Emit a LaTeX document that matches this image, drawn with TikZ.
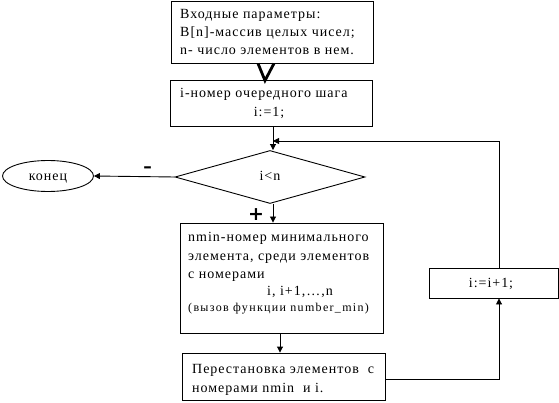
\documentclass[tikz,border=0pt]{standalone}
\usepackage{fontspec}
\setmainfont{Liberation Serif}[LetterSpace=7]
\newfontfamily\smallfam{Liberation Serif}[LetterSpace=11]
\newfontfamily\signfont{DejaVu Sans}
\usetikzlibrary{shapes.geometric,arrows.meta}
\tikzset{
  box/.style={draw, line width=0.9pt, inner sep=0pt},
  txt/.style={anchor=base west, inner sep=0pt, font=\fontsize{14}{16}\selectfont},
  ctxt/.style={anchor=base, inner sep=0pt, font=\fontsize{14}{16}\selectfont},
  conn/.style={line width=0.9pt, -{Triangle[length=6pt,width=6pt]}},
}
\begin{document}
\begin{tikzpicture}[x=1pt,y=-1pt]
\useasboundingbox (0,0) rectangle (559,403);
% boxes
\node[box, minimum width=202pt, minimum height=62pt] (b1) at (272,32) {};
\node[box, minimum width=202pt, minimum height=46pt] (b2) at (271,103) {};
\node[box, shape=diamond, minimum width=190pt, minimum height=53pt, aspect=3.6] (d) at (270,177) {};
\node[box, shape=ellipse, minimum width=91pt, minimum height=31pt] (e) at (48,176) {};
\node[box, minimum width=203pt, minimum height=110pt] (b3) at (281.5,278) {};
\node[box, minimum width=203pt, minimum height=47pt] (b4) at (283.5,376.5) {};
\node[box, minimum width=129pt, minimum height=30pt] (b5) at (493.5,283) {};
% texts
\node[txt] (t11) at (180,19) {Входные параметры:};
\node[txt] (t12) at (180,37) {B[n]-массив целых чисел;};
\node[txt] (t13) at (180,55) {n- число элементов в нем.};
\node[txt] (t21) at (180,98) {i-номер очередного шага};
\node[ctxt] (t22) at (269,117) {i:=1;};
\node[ctxt] (td) at (270,181) {i<n};
\node[ctxt] (te) at (48,181) {конец};
\node[txt] (t31) at (188,242) {nmin-номер минимального};
\node[txt] (t32) at (188,260) {элемента, среди элементов};
\node[txt] (t33) at (188,278) {с номерами};
\node[ctxt] (t34) at (300,295) {i, i+1,\dots,n};
\node[anchor=base west, inner sep=0pt, font=\smallfam\fontsize{12}{14}\selectfont] (t35) at (188,311) {(вызов функции number\_min)};
\node[txt] (t41) at (192,373) {Перестановка элементов\ \ с};
\node[txt] (t42) at (192,392) {номерами nmin\ \ и i.};
\node[ctxt] (t5) at (491,287) {i:=i+1;};
% labels
\node[inner sep=0pt, font=\signfont\fontsize{17}{17}\selectfont\bfseries] (lm) at (147.5,170) {–};
\node[inner sep=0pt, font=\signfont\fontsize{19}{19}\selectfont\bfseries] (lp) at (256,215) {+};
% helper coordinates
\coordinate (j) at (273,141);
\coordinate (xr) at (499,0);
\coordinate (xm) at (280,0);
\coordinate (yb) at (0,379);
% connectors
\draw[line width=2.8pt] ([xshift=-14pt]b1.south) -- ([xshift=-6pt,yshift=-1pt]b2.north) -- ([xshift=2pt]b1.south);
\draw[conn] (b2.south -| j) -- (d.north -| j);
\draw[conn] (b5.north -| xr) |- (j);
\draw[conn] (d.west) -- (e.east);
\draw[conn] (d.south -| j) -- (b3.north -| j);
\draw[conn] (b3.south -| xm) -- (b4.north -| xm);
\draw[conn] (b4.east |- yb) -| (b5.south -| xr);
\end{tikzpicture}
\end{document}
